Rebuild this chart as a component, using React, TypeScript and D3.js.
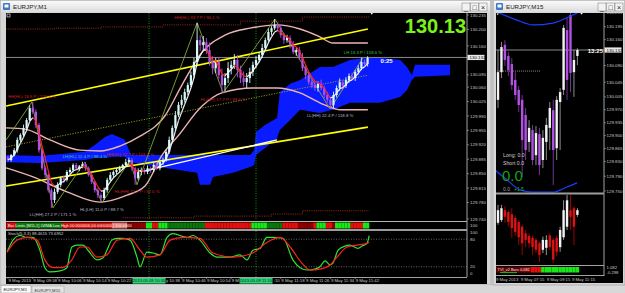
import React from "react";
import * as d3 from "d3";

const FONT = "'Liberation Sans', Arial, Helvetica, sans-serif";

/* ================= EURJPY,M1 (left window) ================= */
const m1FirstOpen = 129.89;
const m1Close = [
  129.883, 129.895, 129.907, 129.932, 129.944, 129.961, 129.98, 130.009, 130.0, 129.968,
  129.907, 129.863, 129.847, 129.81, 129.786, 129.806, 129.823, 129.839, 129.835, 129.854,
  129.859, 129.871, 129.863, 129.868, 129.873, 129.863, 129.847, 129.83, 129.81, 129.798,
  129.791, 129.81, 129.835, 129.847, 129.854, 129.859, 129.863, 129.871, 129.878, 129.883,
  129.863, 129.839, 129.854, 129.859, 129.854, 129.863, 129.859, 129.871, 129.863, 129.878,
  129.883, 129.903, 129.932, 129.961, 129.992, 130.017, 130.029, 130.048, 130.065, 130.089,
  130.121, 130.174, 130.162, 130.169, 130.15, 130.121, 130.106, 130.121, 130.089, 130.065,
  130.082, 130.106, 130.114, 130.126, 130.102, 130.082, 130.072, 130.082, 130.097, 130.114,
  130.126, 130.138, 130.155, 130.174, 130.194, 130.203, 130.211, 130.203, 130.186, 130.174,
  130.179, 130.162, 130.145, 130.15, 130.131, 130.106, 130.089, 130.072, 130.065, 130.058,
  130.068, 130.058, 130.041, 130.029, 130.017, 130.041, 130.058, 130.072, 130.063, 130.077,
  130.087, 130.082, 130.097, 130.106, 130.121, 130.116, 130.131,
];
// wick extensions in points (0.001)
const m1WickHi = [
  4, 3, 5, 6, 4, 8, 5, 7, 15, 6, 5, 4, 6, 3, 5, 8, 6, 4, 7, 5,
  6, 4, 5, 3, 6, 5, 4, 6, 3, 5, 4, 6, 5, 7, 4, 5, 6, 3, 8, 6,
  5, 4, 9, 6, 5, 7, 4, 6, 5, 4, 6, 5, 8, 6, 10, 7, 12, 8, 6, 9,
  10, 42, 12, 15, 10, 18, 14, 10, 12, 16, 12, 15, 10, 14, 12, 10, 16, 12, 10, 8,
  9, 7, 10, 6, 8, 5, 14, 6, 9, 5, 8, 6, 10, 5, 7, 12, 6, 8, 5, 9,
  6, 10, 5, 7, 4, 8, 6, 9, 5, 7, 6, 8, 5, 7, 10, 6, 4,
];
const m1WickLo = [
  5, 4, 3, 6, 5, 4, 6, 3, 5, 7, 6, 5, 8, 6, 19, 7, 5, 6, 8, 4,
  5, 6, 4, 7, 5, 6, 4, 5, 6, 7, 12, 5, 6, 4, 7, 5, 6, 4, 5, 6,
  7, 16, 5, 8, 6, 5, 7, 6, 4, 5, 6, 4, 5, 7, 6, 5, 8, 6, 7, 5,
  8, 10, 14, 12, 10, 9, 15, 12, 10, 19, 14, 12, 15, 10, 18, 12, 10, 14, 12, 10,
  8, 6, 7, 5, 6, 8, 5, 7, 6, 9, 6, 8, 5, 9, 6, 7, 10, 6, 8, 7,
  9, 6, 8, 7, 10, 8, 6, 7, 9, 5, 6, 5, 7, 6, 5, 4, 6,
];
const m1PriceTicks = [130.235, 130.2, 130.16, 130.09, 130.06, 130.025, 129.99, 129.955, 129.92, 129.885, 129.85, 129.815, 129.78, 129.74];
const m1Current = 130.132;
const m1BigPrice = "130.13";
const m1Countdown = "0:25";
const m1TimeBars = [0, 8, 16, 24, 32, 40, 48, 56, 64, 72, 80, 88, 96, 104, 112];
const m1TimeLabels = ["9 May 2013", "9 May 09:58", "9 May 10:06", "9 May 10:14", "9 May 10:22", "9 May 10:30", "9 May 10:38", "9 May 10:46", "9 May 10:54", "9 May 11:02", "9 May 11:10", "9 May 11:18", "9 May 11:26", "9 May 11:34", "9 May 11:42"];
const m1MarkerBars = [45.5, 80];
const m1MarkerLabels = ["2013.05.09 10:35", "2013.05.09 11:10"];

// Ichimoku cloud
const cloudBars = [-0.6, 10.3, 24.8, 28.1, 31.3, 33.5, 37.7, 39.7, 51.3, 61, 61.9, 65.2, 66.1, 72.6, 78.1, 79.4, 80, 82.9, 86.8, 87.7, 91, 94.2, 100.6, 104.8, 110.3, 115.8, 120, 126.5, 128.7, 130.3, 131.3, 142.6];
const cloudTop = [129.895, 129.893, 129.903, 129.92, 129.939, 129.946, 129.932, 129.895, 129.895, 129.895, 129.895, 129.895, 129.895, 129.895, 129.895, 129.907, 129.951, 129.968, 129.985, 130.048, 130.068, 130.077, 130.109, 130.109, 130.126, 130.131, 130.131, 130.126, 130.109, 130.089, 130.114, 130.114];
const cloudBottom = [129.878, 129.876, 129.883, 129.888, 129.888, 129.891, 129.891, 129.878, 129.863, 129.852, 129.823, 129.823, 129.842, 129.852, 129.866, 129.871, 129.895, 129.912, 129.936, 129.956, 129.98, 130.005, 129.997, 130.005, 130.022, 130.022, 130.022, 130.036, 130.053, 130.077, 130.085, 130.089];

// envelope bands
const envUpperBars = [-0.6, 5.5, 13.5, 23.2, 29.7, 36.1, 42.6, 50.6, 56.1, 62.6, 70, 78.1, 86.8, 94.2, 100.6, 104.8, 116.1];
const envUpper = [129.961, 129.958, 129.932, 129.907, 129.905, 129.917, 129.941, 129.99, 130.065, 130.145, 130.186, 130.203, 130.211, 130.201, 130.182, 130.167, 130.167];
const envLowerBars = [-0.6, 8.1, 19, 29.7, 38.4, 44.2, 49.7, 54.8, 62.6, 69, 79, 86.8, 94.2, 100.6, 107.1, 116.1];
const envLower = [129.864, 129.842, 129.806, 129.781, 129.798, 129.82, 129.895, 129.941, 130.014, 130.046, 130.058, 130.058, 130.046, 130.022, 130.005, 130.005];

// regression channel
const channelBars = [-0.6, 116.1];
const channelUpper = [130.014, 130.201];
const channelMiddle = [129.915, 130.089];
const channelLower = [129.82, 129.963];
const trendBars = [45.4, 86.8];
const trendPrices = [129.859, 129.932];

// bar-limit dotted levels
const limitHighBars = [-0.6, 15, 30, 50, 75, 95, 116.5];
const limitHigh = [130.201, 130.203, 130.206, 130.211, 130.22, 130.23, 130.23];
const limitLowBars = [37, 60, 85, 95, 116.5];
const limitLow = [129.743, 129.747, 129.752, 129.76, 129.76];

// zigzag
const zigBars = [-0.6, 7.7, 14.5, 24.8, 30.3, 39.4, 41.6, 61, 69.4, 86.1, 103.9, 114.5];
const zigPrices = [129.932, 130.024, 129.767, 129.878, 129.779, 129.883, 129.823, 130.216, 130.046, 130.225, 130.007, 130.131];
const zigLabels = ["", "HH(HL)  18.9 P / 223.3 %", "LL(HH)  27.2 P / 171.1 %", "LH(HL)  12.4 P / 88.4 %", "HL(LH)  11.0 P / 88.7 %", "HH(HL)  12.7 P / 103.1 %", "HL(HH)  12.7 P / 32.0 %", "HH(HL)  33.7 P / 96.1 %", "HL(HH)  17.7 P / 38.6 %", "", "LL(HH)  22.4 P / 118.8 %", "LH  13.3 P / 158.6 %"];
const zigLabelColors = ["", "#d02020", "#b8b8c8", "#3cc8b4", "#b8b8c8", "#d02020", "#d02020", "#d02020", "#d02020", "", "#b8b8c8", "#3cc83c"];

// stochastic
const stochTitle = "Stoch(5,3,3) 88.4615 73.6952";
const stochKBars = [-0.3, 1.6, 3.9, 6.1, 8.1, 10.3, 11.9, 13.5, 16.8, 19, 20, 20.6, 22.3, 24.2, 25.8, 28.7, 30.6, 31.9, 33.5, 35.2, 37.1, 39.4, 41.6, 42.6, 44.8, 46.8, 49, 51.3, 53.2, 57.7, 59.7, 61.9, 65.2, 67.4, 71.6, 74.8, 77.1, 79, 81.3, 83.5, 85.5, 88.7, 91.9, 94.2, 96.5, 99, 100.6, 102.3, 103.9, 104.8, 106.5, 108.7, 110.3, 112.9, 114.2, 115.8, 116.5];
const stochK = [52, 78, 88, 84, 84, 56, 18, 9, 11, 18, 50, 63, 67, 67, 56, 35, 39, 56, 78, 82, 82, 78, 41, 20, 52, 50, 46, 84, 92, 84, 88, 78, 50, 41, 41, 46, 35, 56, 60, 84, 84, 82, 35, 18, 13, 15, 20, 33, 24, 28, 56, 65, 67, 60, 65, 71, 88];
const stochDBars = [-0.3, 2.9, 6.1, 9.4, 11.9, 14.5, 17.7, 20.6, 23.2, 25.5, 28.7, 31.9, 35.2, 39.4, 42.6, 44.8, 49, 52.3, 56.5, 61.9, 66.1, 72.6, 79, 83.5, 87.7, 91, 94.8, 97.4, 100.6, 103.9, 106.1, 109.4, 112.6, 115.8, 116.5];
const stochD = [52, 78, 84, 78, 35, 18, 18, 35, 63, 63, 41, 46, 78, 82, 56, 41, 46, 78, 84, 82, 50, 41, 50, 73, 84, 63, 28, 13, 15, 24, 41, 63, 67, 71, 73];
const stochLevels = [80, 20];
const stochAxis = [100, 80, 20, 0];

// colour strip (one code per bar)
const stripRuns = ["RRR", "ggggggggggggggg", "RRRRRRRRRRRRRRRR", "ppppp", "rrrrrr", "GG", "RR", "GGG", "gggggggggggg", "RRRRRRRRRRRRRRR", "GGGGG", "ggggg", "RRRRR", "rrrrr", "R", "GGG", "RR", "r", "GGGGG", "RRRR", "GG"];
const stripText = "Bar Limits  [M15,1] LWMA Low High  00:0000000,00:0000000  |  100.0000";

/* ================= EURJPY,M15 (right window) ================= */
const m15Open = [129.997, 130.072, 130.146, 130.116, 130.094, 130.051, 130.024, 129.997, 129.956, 129.883, 129.915, 129.847, 129.904, 129.834, 129.883, 129.921, 129.969, 129.866, 129.991, 130.024, 130.186, 130.227, 130.072, 130.116];
const m15High = [130.132, 130.154, 130.159, 130.127, 130.11, 130.072, 130.034, 130.01, 129.975, 129.942, 129.929, 129.926, 129.921, 129.915, 129.948, 129.991, 129.997, 130.007, 130.029, 130.2, 130.219, 130.246, 130.132, 130.137];
const m15Low = [129.975, 130.056, 130.089, 130.062, 130.024, 129.997, 129.964, 129.788, 129.834, 129.856, 129.82, 129.82, 129.793, 129.812, 129.834, 129.861, 129.766, 129.834, 129.861, 130.01, 129.997, 130.018, 130.005, 130.091];
const m15Close = [130.072, 130.14, 130.105, 130.078, 130.037, 130.01, 129.983, 129.888, 129.861, 129.921, 129.834, 129.907, 129.82, 129.894, 129.929, 129.975, 129.861, 129.997, 130.018, 130.192, 130.051, 130.07, 130.105, 130.132];
const m15PriceTicks = [130.235, 130.195, 130.16, 130.09, 130.045, 130.005, 129.97, 129.935, 129.9, 129.865, 129.83, 129.79, 129.75];
const m15Current = 130.132;
const m15Countdown = "13:25";
const m15Level = 130.075;
const m15MaTopIdx = [-0.3, 5.5, 10.1, 15.9, 21.7, 22.9];
const m15MaTop = [130.235, 130.213, 130.2, 130.205, 130.227, 130.232];
const m15MaBotIdx = [-0.9, 2.6, 6.4, 10.1, 15.9, 20, 22.9];
const m15MaBot = [129.807, 129.78, 129.753, 129.747, 129.747, 129.761, 129.772];
const m15HaOpen = [61, 65, 80, 77, 74, 68, 62, 55, 45, 41, 38, 35, 30, 20, 23, 42, 35, 38, 24, 39, 55, 80, 83, 73];
const m15HaClose = [80, 83, 70, 62, 53, 47, 39, 30, 35, 30, 24, 20, 12, 35, 35, 24, 5, 17, 50, 80, 95, 70, 55, 80];
const m15HaHigh = [88, 88, 86, 80, 83, 72, 65, 58, 50, 45, 42, 38, 33, 40, 42, 45, 38, 42, 55, 95, 103, 103, 86, 83];
const m15HaLow = [58, 62, 61, 55, 38, 41, 27, 12, 24, 23, 12, 15, 1.5, 15, 12, 20, 0, 10, 17, 35, 50, 50, 27, 70];
const m15Strip = "rrrrrrrrrrRRRGGGGGGGGGGG";
const m15StripText = "TVI_v2  Bars 0.082";
const m15StripAxis = ["1.082", "-0.298"];
const m15TimeIdx = [-0.6, 6.6, 14.1, 21.4];
const m15TimeLabels = ["9 May 2013", "9 May 07:15", "9 May 09:15", "9 May 11:15"];
const m15InfoLong = "Long:  0.0";
const m15InfoShort = "Short  0.0";
const m15InfoBig = "0.0";
const m15InfoA = "0.0";
const m15InfoB = "+1.5";

const STRIP_COL: Record<string, string> = { R: "#e41010", r: "#8c0000", G: "#18e818", g: "#0b760b", p: "#f07878" };
const UP = "#d6fafa";
const DN = "#b450e6";
const CHAR_W = 2.15; // approx advance of a 4.3px glyph
const MARKER_HALF = 16.5;

function WinButtons({ x }: { x: number }) {
  const glyphs = ["_", "□", "×"];
  return (
    <g>
      {glyphs.map((g, i) => (
        <g key={i}>
          <rect x={x + i * 8.5} y={3} width={8} height={8} fill="#f2f2f2" stroke="#8a8a8a" strokeWidth={0.6} />
          <text x={x + i * 8.5 + 4} y={9.6} fontSize={7} textAnchor="middle" fontFamily={FONT} fill="#202020">{g}</text>
        </g>
      ))}
    </g>
  );
}

export default function App() {
  const xL = d3.scaleLinear().domain([0, 116]).range([8, 367.6]);
  const yL = d3.scaleLinear().domain([129.74, 130.235]).range([219, 15]);
  const yS = d3.scaleLinear().domain([0, 100]).range([276, 230]);
  const xR = d3.scaleLinear().domain([0, 23]).range([498, 577.4]);
  const yR = d3.scaleLinear().domain([129.75, 130.235]).range([191, 12]);
  const yH = d3.scaleLinear().domain([0, 100]).range([263, 197]);

  const m1Open = m1Close.map((c, i) => (i === 0 ? m1FirstOpen : m1Close[i - 1]));
  const ema: number[] = [];
  m1Close.forEach((c, i) => ema.push(i === 0 ? c : ema[i - 1] + (c - ema[i - 1]) * 0.4));

  const pLine = d3.line<[number, number]>().x((d) => xL(d[0])).y((d) => yL(d[1]));
  const pCurve = d3.line<[number, number]>().x((d) => xL(d[0])).y((d) => yL(d[1])).curve(d3.curveMonotoneX);
  const pStep = d3.line<[number, number]>().x((d) => xL(d[0])).y((d) => yL(d[1])).curve(d3.curveStepAfter);
  const sCurve = d3.line<[number, number]>().x((d) => xL(d[0])).y((d) => yS(d[1])).curve(d3.curveMonotoneX);
  const rCurve = d3.line<[number, number]>().x((d) => xR(d[0])).y((d) => yR(d[1])).curve(d3.curveMonotoneX);
  const cloudArea = d3
    .area<number>()
    .x((_, i) => xL(cloudBars[i]))
    .y0((_, i) => yL(cloudBottom[i]))
    .y1((_, i) => yL(cloudTop[i]));

  const zip = (a: number[], b: number[]) => a.map((v, i) => [v, b[i]] as [number, number]);
  const strip = stripRuns.join("");

  // time labels: hide the parts covered by the highlighted marker boxes
  const boxes = m1MarkerBars.map((b) => [xL(b) - MARKER_HALF, xL(b) + MARKER_HALF]);
  const timeTexts = m1TimeBars.map((b, i) => {
    const label = m1TimeLabels[i];
    const x0 = xL(b) + 0.5;
    const x1 = x0 + label.length * CHAR_W;
    for (const [a, z] of boxes) {
      if (x1 <= a || x0 >= z) continue;
      if (x0 < a) {
        const n = Math.floor((a - x0) / CHAR_W);
        const t = label.slice(0, n).trimEnd();
        return { x: x0, t: t.length > 1 ? t : "" };
      }
      const k = Math.ceil((z - x0) / CHAR_W);
      let t = label.slice(k);
      const lead = t.length - t.trimStart().length;
      t = t.trimStart();
      return { x: x0 + (k + lead) * CHAR_W, t };
    }
    return { x: x0, t: label };
  });

  return (
    <div style={{ position: "absolute", left: 0, top: 0 }}>
      <svg width={625} height={293} style={{ display: "block" }} fontFamily={FONT}>
        <defs>
          <clipPath id="mainL"><rect x={6} y={13} width={461} height={207} /></clipPath>
          <clipPath id="mainR"><rect x={496} y={13} width={108} height={180} /></clipPath>
          <linearGradient id="title" x1="0" y1="0" x2="0" y2="1">
            <stop offset="0" stopColor="#fafafa" />
            <stop offset="1" stopColor="#dcdcdc" />
          </linearGradient>
        </defs>
        <rect x={0} y={0} width={625} height={293} fill="#d0d0d0" />

        {/* ===== left window ===== */}
        <rect x={0} y={0} width={491} height={285} fill="#d6d6d6" stroke="#a8a8a8" strokeWidth={0.8} />
        <rect x={1} y={1} width={489} height={11} fill="url(#title)" />
        <rect x={3} y={3} width={7} height={7} fill="#3a78c8" rx={1} />
        <rect x={4.5} y={4.5} width={4} height={3} fill="#ffffff" />
        <text x={13} y={9.2} fontSize={6.2} fill="#1a1a1a">EURJPY,M1</text>
        <WinButtons x={462} />
        <rect x={6} y={13} width={481} height={271} fill="#000" />

        <g clipPath="url(#mainL)">
          <path d={cloudArea(cloudBars) || ""} fill="#0a1cff" />
          {m1MarkerBars.map((b, i) => (
            <line key={i} x1={xL(b)} x2={xL(b)} y1={13} y2={220} stroke="#1aa01a" strokeWidth={0.9} strokeDasharray="1,1.5" />
          ))}
          <path d={pStep(zip(limitHighBars, limitHigh)) || ""} fill="none" stroke="#a83020" strokeWidth={0.9} strokeDasharray="1,1.2" />
          <path d={pStep(zip(limitLowBars, limitLow)) || ""} fill="none" stroke="#a83020" strokeWidth={0.9} strokeDasharray="1,1.2" />
          <path d={pLine(zip(channelBars, channelMiddle)) || ""} fill="none" stroke="#a4a41c" strokeWidth={0.9} strokeDasharray="1.2,1.4" />
          <line x1={6} x2={467} y1={yL(m1Current)} y2={yL(m1Current)} stroke="#9a9a9a" strokeWidth={0.9} />
          <path d={pCurve(zip(envUpperBars, envUpper)) || ""} fill="none" stroke="#ecb4b4" strokeWidth={1.4} />
          <path d={pCurve(zip(envLowerBars, envLower)) || ""} fill="none" stroke="#ecb4b4" strokeWidth={1.4} />
          <path d={pLine(zip(channelBars, channelUpper)) || ""} fill="none" stroke="#ffff00" strokeWidth={1.6} />
          <path d={pLine(zip(channelBars, channelLower)) || ""} fill="none" stroke="#ffff00" strokeWidth={1.6} />
          <path d={pLine(zip(trendBars, trendPrices)) || ""} fill="none" stroke="#ffffff" strokeWidth={1.3} />
          <path d={pLine(zip(zigBars, zigPrices)) || ""} fill="none" stroke="#82a834" strokeWidth={0.9} />

          {m1Close.map((c, i) => {
            const o = m1Open[i];
            const up = c >= o;
            const hi = Math.max(o, c) + m1WickHi[i] / 1000;
            const lo = Math.min(o, c) - m1WickLo[i] / 1000;
            const col = up ? UP : DN;
            const x = xL(i);
            const yT = yL(Math.max(o, c));
            const yB = yL(Math.min(o, c));
            return (
              <g key={i}>
                <line x1={x} x2={x} y1={yL(hi)} y2={yL(lo)} stroke={col} strokeWidth={0.9} />
                <rect x={x - 1.1} y={yT} width={2.2} height={Math.max(1, yB - yT)} fill={col} />
              </g>
            );
          })}
          {ema.slice(1).map((v, k) => {
            const i = k + 1;
            return (
              <line key={i} x1={xL(i - 1)} x2={xL(i)} y1={yL(ema[i - 1])} y2={yL(v)} stroke={v >= ema[i - 1] ? "#f4f4f4" : "#ff2424"} strokeWidth={1.2} />
            );
          })}
          {zigLabels.map((t, i) => {
            if (!t) return null;
            const prev = zigPrices[i - 1] ?? zigPrices[i + 1];
            const peak = zigPrices[i] > prev;
            return (
              <text key={i} x={xL(zigBars[i])} y={yL(zigPrices[i]) + (peak ? -4 : 8)} fontSize={4.3} textAnchor="middle" fill={zigLabelColors[i]}>{t}</text>
            );
          })}
          <text x={xL(116) + 13} y={63} fontSize={6} fontWeight="bold" fill="#ffffff">{m1Countdown}</text>
        </g>
        <rect x={7} y={14} width={3} height={3} fill="none" stroke="#ffffff" strokeWidth={0.6} />
        <path d={`M${xL(116) + 3},13 l2.4,0 l-1.2,1.8 z`} fill="#ffffff" />
        <text x={466} y={32.5} fontSize={20} fontWeight="bold" fill="#7cf21c" textAnchor="end">{m1BigPrice}</text>

        {/* left price axis */}
        <line x1={467} x2={467} y1={13} y2={277} stroke="#b4b4b4" strokeWidth={0.9} />
        {m1PriceTicks.map((p) => (
          <g key={p}>
            <line x1={467} x2={469} y1={yL(p)} y2={yL(p)} stroke="#b4b4b4" strokeWidth={0.6} />
            <text x={470} y={yL(p) + 1.6} fontSize={4.4} fill="#c8c8c8">{p.toFixed(3)}</text>
          </g>
        ))}
        <rect x={467.5} y={yL(m1Current) - 2.6} width={17} height={5.2} fill="#e8e8e8" />
        <text x={469.5} y={yL(m1Current) + 1.6} fontSize={4.4} fill="#000">{m1Current.toFixed(3)}</text>

        {/* colour strip */}
        <line x1={6} x2={467} y1={221.5} y2={221.5} stroke="#c8c8c8" strokeWidth={0.9} />
        {strip.split("").map((c, i) => (
          <rect key={i} x={xL(i) - 1.55} y={222.5} width={3.2} height={6} fill={STRIP_COL[c]} />
        ))}
        <text x={8} y={227.3} fontSize={3.9} fill="#e8ffe8">{stripText}</text>
        <text x={470} y={227} fontSize={4.4} fill="#c8c8c8">100</text>
        <line x1={6} x2={467} y1={230} y2={230} stroke="#9c9c9c" strokeWidth={2} />

        {/* stochastic */}
        {stochLevels.map((l) => (
          <line key={l} x1={6} x2={467} y1={yS(l)} y2={yS(l)} stroke="#a8a8a8" strokeWidth={0.6} strokeDasharray="1,1.5" />
        ))}
        {m1MarkerBars.map((b, i) => (
          <line key={i} x1={xL(b)} x2={xL(b)} y1={231} y2={277} stroke="#1aa01a" strokeWidth={0.9} strokeDasharray="1,1.5" />
        ))}
        <path d={sCurve(zip(stochKBars, stochK)) || ""} fill="none" stroke="#2ee62e" strokeWidth={1.2} />
        <path d={sCurve(zip(stochDBars, stochD)) || ""} fill="none" stroke="#ff2020" strokeWidth={1.2} />
        <text x={8} y={235.3} fontSize={4.2} fill="#d0d0d0">{stochTitle}</text>
        {stochAxis.map((v) => (
          <text key={v} x={470} y={Math.min(275, Math.max(234, yS(v) + 1.6))} fontSize={4.4} fill="#c8c8c8">{v}</text>
        ))}
        <line x1={6} x2={467} y1={277.5} y2={277.5} stroke="#b4b4b4" strokeWidth={0.9} />

        {/* time axis */}
        {m1TimeBars.map((b, i) => (
          <g key={b}>
            <line x1={xL(b)} x2={xL(b)} y1={277.5} y2={279} stroke="#b4b4b4" strokeWidth={0.6} />
            {timeTexts[i].t ? (
              <text x={timeTexts[i].x} y={282.3} fontSize={4.3} fill="#c8c8c8">{timeTexts[i].t}</text>
            ) : null}
          </g>
        ))}
        {m1MarkerBars.map((b, i) => (
          <g key={i}>
            <rect x={xL(b) - MARKER_HALF} y={278} width={MARKER_HALF * 2} height={5.6} fill="#2ed27a" />
            <text x={xL(b)} y={282.4} fontSize={4.2} textAnchor="middle" fill="#0a2a0a">{m1MarkerLabels[i]}</text>
          </g>
        ))}

        {/* bottom tabs */}
        <rect x={0} y={285} width={625} height={8} fill="#d8d8d8" />
        <rect x={1} y={285.5} width={30} height={7.5} fill="#fbfbfb" stroke="#9a9a9a" strokeWidth={0.6} />
        <text x={3.5} y={291.4} fontSize={4.3} fill="#202020">EURJPY,M1</text>
        <rect x={32} y={286} width={32} height={7} fill="#e6e6e6" stroke="#a8a8a8" strokeWidth={0.6} />
        <text x={34.5} y={291.6} fontSize={4.3} fill="#303030">EURJPY,M15</text>

        {/* ===== right window ===== */}
        <rect x={493} y={0} width={132} height={285} fill="#d6d6d6" stroke="#a8a8a8" strokeWidth={0.8} />
        <rect x={494} y={1} width={130} height={11} fill="url(#title)" />
        <rect x={496} y={3} width={7} height={7} fill="#3a78c8" rx={1} />
        <rect x={497.5} y={4.5} width={4} height={3} fill="#ffffff" />
        <text x={506} y={9.2} fontSize={6.2} fill="#1a1a1a">EURJPY,M15</text>
        <WinButtons x={598} />
        <rect x={496} y={13} width={127} height={270} fill="#000" />

        <g clipPath="url(#mainR)">
          <line x1={496} x2={604} y1={yR(m15Current)} y2={yR(m15Current)} stroke="#9a9a9a" strokeWidth={0.9} />
          <line x1={xR(-0.3)} x2={xR(12.2)} y1={yR(m15Level)} y2={yR(m15Level)} stroke="#d0d0d0" strokeWidth={0.7} strokeDasharray="1,1" />
          {m15Close.map((c, i) => {
            const o = m15Open[i];
            const up = c >= o;
            const col = up ? "#f2f2f2" : DN;
            const x = xR(i);
            const yT = yR(Math.max(o, c));
            const yB = yR(Math.min(o, c));
            return (
              <g key={i}>
                <line x1={x} x2={x} y1={yR(m15High[i])} y2={yR(m15Low[i])} stroke={up ? "#9a9a9a" : "#7a3aa0"} strokeWidth={0.9} />
                <rect x={x - 1.2} y={yT} width={2.4} height={Math.max(1, yB - yT)} fill={col} />
              </g>
            );
          })}
          <path d={rCurve(zip(m15MaTopIdx, m15MaTop)) || ""} fill="none" stroke="#1a3cff" strokeWidth={1.2} />
          <path d={rCurve(zip(m15MaBotIdx, m15MaBot)) || ""} fill="none" stroke="#1a3cff" strokeWidth={1.2} />
          <text x={603} y={yR(m15Current) + 2.6} fontSize={6} fontWeight="bold" fill="#ffffff" textAnchor="end">{m15Countdown}</text>
          <text x={503} y={157} fontSize={5.2} fill="#cfcfcf">{m15InfoLong}</text>
          <text x={503} y={165} fontSize={5.2} fill="#cfcfcf">{m15InfoShort}</text>
          <text x={502} y={181} fontSize={15} fill="#14a014">{m15InfoBig}</text>
          <text x={503} y={190.8} fontSize={5} fill="#a0a0a0">{m15InfoA}</text>
          <text x={514} y={190.8} fontSize={5} fill="#1eb41e">{m15InfoB}</text>
        </g>
        <path d="M496.5,13.5 l2.4,0 l-1.2,1.8 z" fill="#ffffff" />
        <path d={`M${xR(23) + 3},13 l2.4,0 l-1.2,1.8 z`} fill="#ffffff" />

        {/* right price axis */}
        <line x1={604} x2={604} y1={13} y2={276} stroke="#b4b4b4" strokeWidth={0.9} />
        {m15PriceTicks.map((p) => (
          <g key={p}>
            <line x1={604} x2={606} y1={yR(p)} y2={yR(p)} stroke="#b4b4b4" strokeWidth={0.6} />
            <text x={606.5} y={yR(p) + 1.6} fontSize={4.4} fill="#c8c8c8">{p.toFixed(3)}</text>
          </g>
        ))}
        <rect x={604.5} y={yR(m15Current) - 2.6} width={17} height={5.2} fill="#e8e8e8" />
        <text x={606.5} y={yR(m15Current) + 1.6} fontSize={4.4} fill="#000">{m15Current.toFixed(3)}</text>

        <line x1={496} x2={604} y1={193.5} y2={193.5} stroke="#9c9c9c" strokeWidth={2} />
        {/* heiken ashi sub window */}
        {m15HaClose.map((c, i) => {
          const o = m15HaOpen[i];
          const up = c >= o;
          const col = up ? "#f2f2f2" : "#e01010";
          const x = xR(i);
          const yT = yH(Math.max(o, c));
          const yB = yH(Math.min(o, c));
          return (
            <g key={i}>
              <line x1={x} x2={x} y1={yH(m15HaHigh[i])} y2={yH(m15HaLow[i])} stroke={up ? "#a8a8a8" : "#b00000"} strokeWidth={0.9} />
              <rect x={x - 1.2} y={yT} width={2.4} height={Math.max(1, yB - yT)} fill={col} />
            </g>
          );
        })}
        <line x1={496} x2={604} y1={265.5} y2={265.5} stroke="#b4b4b4" strokeWidth={0.9} />
        {m15Strip.split("").map((c, i) => (
          <rect key={i} x={xR(i) - 1.75} y={267} width={3.5} height={5.5} fill={STRIP_COL[c]} />
        ))}
        <rect x={496.5} y={266.8} width={24} height={5.6} fill="#5a0000" />
        <text x={497.5} y={271.4} fontSize={3.9} fill="#f0f0f0">{m15StripText}</text>
        <line x1={500} x2={517} y1={272.6} y2={272.6} stroke="#1ee61e" strokeWidth={0.8} />
        <text x={606.5} y={269.4} fontSize={4.2} fill="#c8c8c8">{m15StripAxis[0]}</text>
        <text x={606.5} y={273.6} fontSize={4.2} fill="#c8c8c8">{m15StripAxis[1]}</text>
        <line x1={496} x2={604} y1={275.5} y2={275.5} stroke="#b4b4b4" strokeWidth={0.9} />
        {m15TimeIdx.map((t, i) => (
          <text key={i} x={xR(t)} y={280.6} fontSize={4.3} fill="#c8c8c8">{m15TimeLabels[i]}</text>
        ))}
      </svg>
    </div>
  );
}
